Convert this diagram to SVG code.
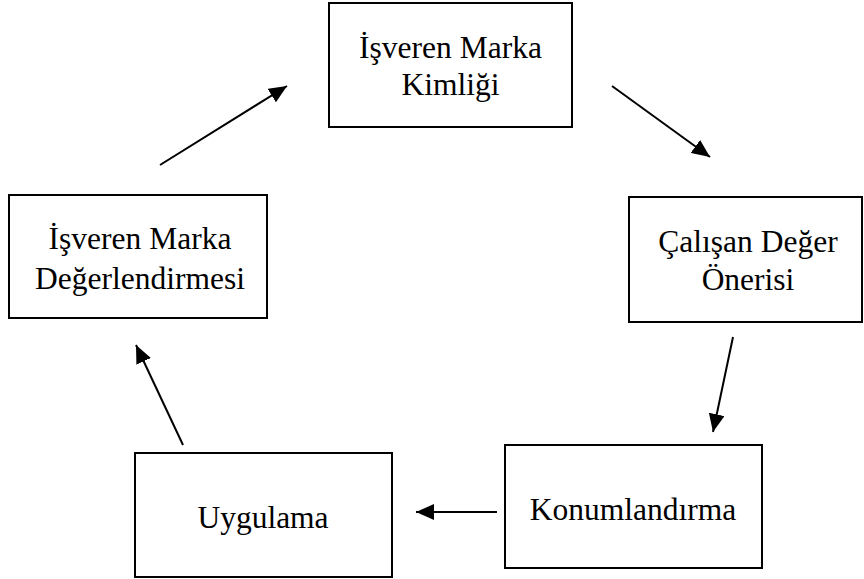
<svg xmlns="http://www.w3.org/2000/svg" width="864" height="579" viewBox="0 0 864 579">
<defs>
<style>
.box{fill:#fff;stroke:#000;stroke-width:2}
.lbl{font-family:"Liberation Serif","Times New Roman",serif;font-size:31.5px;fill:#000;text-anchor:middle}
.conn{stroke:#000;stroke-width:2;fill:none;marker-end:url(#ah)}
</style>
<marker id="ah" markerUnits="userSpaceOnUse" markerWidth="19" markerHeight="16" refX="18" refY="8" orient="auto">
<path d="M0,0 L18,8 L0,16 z" fill="#000"/>
</marker>
</defs>
<rect width="864" height="579" fill="#fff"/>
<g id="n1">
<rect class="box" x="329" y="3" width="243" height="124"/>
<text class="lbl" x="450.5" y="58">İşveren Marka</text>
<text class="lbl" x="450.5" y="95">Kimliği</text>
</g>
<g id="n2">
<rect class="box" x="629" y="197" width="233" height="125"/>
<text class="lbl" x="748" y="252">Çalışan Değer</text>
<text class="lbl" x="748" y="290">Önerisi</text>
</g>
<g id="n3">
<rect class="box" x="9" y="195" width="258" height="123"/>
<text class="lbl" x="140" y="249">İşveren Marka</text>
<text class="lbl" x="140" y="289">Değerlendirmesi</text>
</g>
<g id="n4">
<rect class="box" x="135" y="453" width="257" height="124"/>
<text class="lbl" x="263" y="528">Uygulama</text>
</g>
<g id="n5">
<rect class="box" x="505" y="445" width="257" height="123"/>
<text class="lbl" x="633" y="520">Konumlandırma</text>
</g>
<g id="connectors">
<line class="conn" x1="160" y1="165" x2="287" y2="86"/>
<line class="conn" x1="612" y1="86" x2="710" y2="157"/>
<line class="conn" x1="733" y1="337" x2="713" y2="432"/>
<line class="conn" x1="497" y1="512" x2="416" y2="512"/>
<line class="conn" x1="183" y1="445" x2="136" y2="345"/>
</g>
</svg>
